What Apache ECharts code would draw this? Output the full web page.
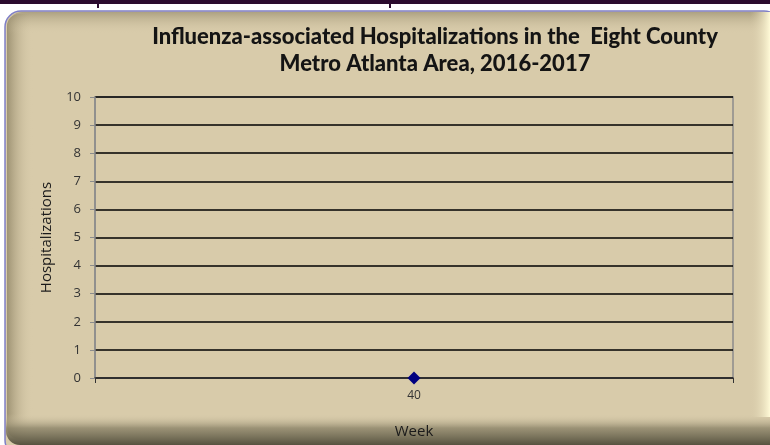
<!DOCTYPE html>
<html><head><meta charset="utf-8">
<script src="https://cdn.jsdelivr.net/npm/echarts@6/dist/echarts.min.js"></script>
<style>html,body{margin:0;padding:0;background:#fff}#c{width:770px;height:445px}</style>
</head><body><div id="c"></div>
<script>
const weeks = ['40'];
const hospitalizations = [0];
const yTicks = [0,1,2,3,4,5,6,7,8,9,10];

const chart = echarts.init(document.getElementById('c'), null, {renderer:'canvas'});
const bg = '#D8CBAA';
chart.setOption({
  animation:false,
  backgroundColor:'#ffffff',
  graphic:[
    {type:'rect', z:-10, shape:{x:0,y:0,width:770,height:4}, style:{fill:'#2B0B2E'}},
    {type:'rect', z:-10, shape:{x:97,y:0,width:2,height:8}, style:{fill:'#2B0B2E'}},
    {type:'rect', z:-10, shape:{x:389,y:0,width:2,height:8}, style:{fill:'#2B0B2E'}},
    {type:'rect', z:-9, shape:{x:5,y:11,width:775,height:445,r:16}, style:{fill:bg, stroke:'#7f7fc8', lineWidth:1.5}},
    {type:'rect', z:-8, shape:{x:7,y:14,width:26,height:425,r:[12,0,0,12]},
      style:{fill:new echarts.graphic.LinearGradient(0,0,1,0,[{offset:0,color:'rgba(110,100,70,0.55)'},{offset:1,color:'rgba(216,203,170,0)'}])}},
    {type:'rect', z:-8, shape:{x:8,y:12,width:770,height:22,r:[14,0,0,0]},
      style:{fill:new echarts.graphic.LinearGradient(0,0,0,1,[{offset:0,color:'rgba(120,110,80,0.45)'},{offset:1,color:'rgba(216,203,170,0)'}])}},
    {type:'rect', z:-8, shape:{x:6,y:414,width:770,height:31,r:[0,0,0,14]},
      style:{fill:new echarts.graphic.LinearGradient(0,0,0,1,[{offset:0,color:'rgba(216,203,170,0)'},{offset:0.45,color:'rgba(140,132,105,0.8)'},{offset:1,color:'rgba(80,76,58,0.95)'}])}},
    {type:'rect', z:-8, shape:{x:750,y:12,width:20,height:405},
      style:{fill:new echarts.graphic.LinearGradient(0,0,1,0,[{offset:0,color:'rgba(216,203,170,0)'},{offset:1,color:'rgba(255,250,215,1)'}])}}
  ],
  title:{
    text:'Influenza-associated Hospitalizations in the  Eight County\nMetro Atlanta Area, 2016-2017',
    left:430, top:18, textAlign:'center',
    textStyle:{fontFamily:'Lato', fontWeight:900, fontSize:22, color:'#141414', lineHeight:27}
  },
  grid:{left:95, right:37, top:97, bottom:67, show:true, borderColor:'#8c8c8c', borderWidth:1.5, backgroundColor:'transparent'},
  xAxis:{
    type:'category', data:weeks, boundaryGap:true,
    name:'Week', nameLocation:'middle', nameGap:46,
    nameTextStyle:{fontFamily:'Open Sans', fontSize:15, color:'#1a1a1a'},
    axisLine:{lineStyle:{color:'#333', width:1.5}},
    axisTick:{show:true, length:5, lineStyle:{color:'#333'}},
    axisLabel:{fontFamily:'Open Sans', fontSize:12, color:'#333', margin:12}
  },
  yAxis:{
    type:'value', min:0, max:10, interval:1,
    name:'Hospitalizations', nameLocation:'middle', nameGap:41,
    nameTextStyle:{fontFamily:'Open Sans', fontSize:15, color:'#1a1a1a'},
    axisLine:{show:true, lineStyle:{color:'#8c8c8c', width:1.5}},
    axisTick:{show:true, length:5, lineStyle:{color:'#8c8c8c'}},
    axisLabel:{fontFamily:'Open Sans', fontSize:13, color:'#333', margin:14,
      formatter:v=>yTicks.includes(v)?String(v):''},
    splitLine:{show:true, lineStyle:{color:'#000', width:1.5}}
  },
  series:[{
    type:'line', data:hospitalizations, symbol:'diamond', symbolSize:13,
    itemStyle:{color:'#000080'}, lineStyle:{color:'#000080', width:2}
  }]
});
</script></body></html>
